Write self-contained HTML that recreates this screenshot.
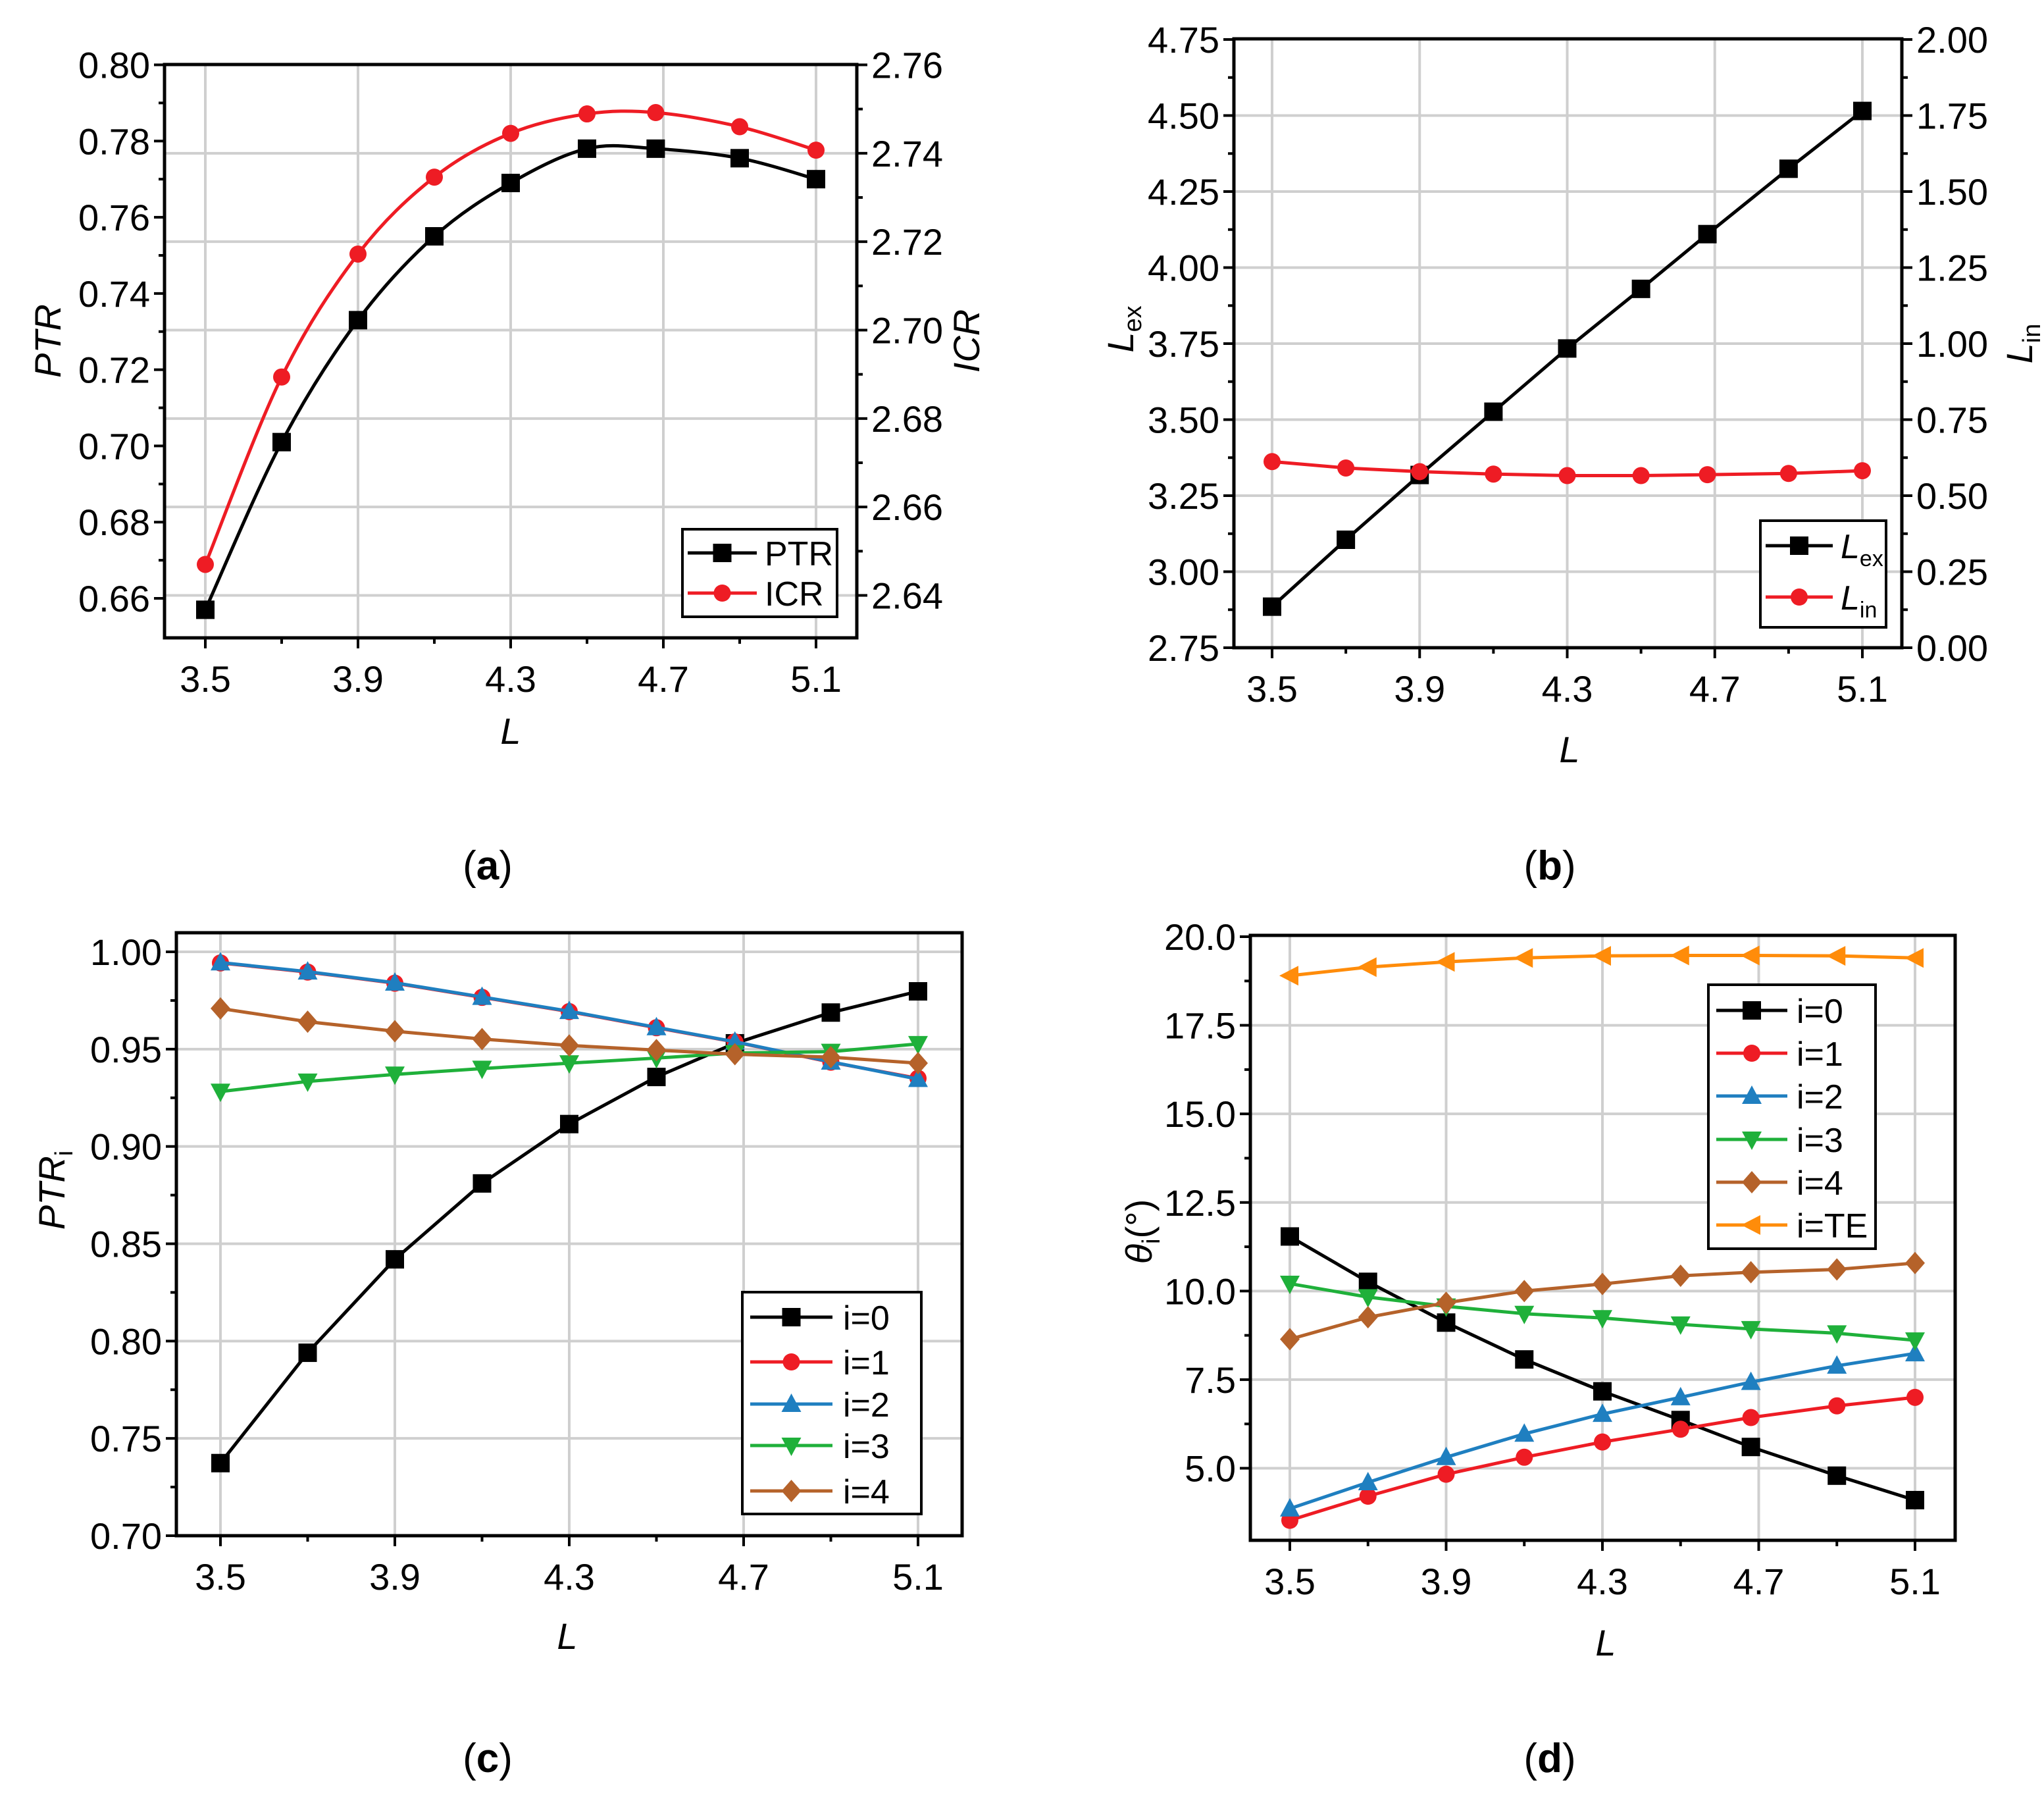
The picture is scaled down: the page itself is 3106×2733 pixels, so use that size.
<!DOCTYPE html>
<html><head><meta charset="utf-8"><style>
html,body{margin:0;padding:0;background:#fff}
svg{display:block}
text{font-family:"Liberation Sans",sans-serif}
</style></head><body>
<svg id="fig" xmlns="http://www.w3.org/2000/svg" width="3106" height="2733" viewBox="0 0 3106 2733"></svg>
<script>
// ---- data ----
const xVals = [3.5,3.7,3.9,4.1,4.3,4.5,4.68,4.9,5.1];
const xTicks = [3.5,3.9,4.3,4.7,5.1];
const xMinor = [3.7,4.1,4.5,4.9];
// panel a
const ptrA = [0.657,0.701,0.733,0.755,0.769,0.778,0.778,0.7755,0.770];
const icrA = [2.647,2.6894,2.7172,2.7346,2.7445,2.7489,2.7492,2.746,2.7407];
const aLeftTicks = [0.66,0.68,0.70,0.72,0.74,0.76,0.78,0.80];
const aRightTicks = [2.64,2.66,2.68,2.70,2.72,2.74,2.76];
// panel b
const lexB = [2.885,3.105,3.318,3.526,3.734,3.93,4.11,4.325,4.515];
const linB = [0.612,0.591,0.579,0.571,0.566,0.566,0.569,0.573,0.582];
const bLeftTicks = [2.75,3.00,3.25,3.50,3.75,4.00,4.25,4.50,4.75];
const bRightTicks = [0,0.25,0.5,0.75,1.0,1.25,1.5,1.75,2.0];
// panel c
const c0 = [0.7373,0.794,0.842,0.881,0.9115,0.9357,0.953,0.9688,0.9797];
const c1 = [0.9943,0.9896,0.9839,0.9766,0.9693,0.961,0.9537,0.9433,0.935];
const c2 = [0.9945,0.9898,0.9841,0.9768,0.9695,0.9612,0.9538,0.9435,0.9346];
const c3 = [0.9282,0.9334,0.937,0.940,0.9428,0.9454,0.948,0.9487,0.9527];
const c4 = [0.9709,0.9641,0.9592,0.9552,0.9519,0.9495,0.9474,0.9459,0.9428];
const cTicks = [0.70,0.75,0.80,0.85,0.90,0.95,1.00];
// panel d
const d0 = [11.54,10.26,9.11,8.07,7.17,6.36,5.6,4.79,4.1];
const d1 = [3.53,4.21,4.83,5.31,5.74,6.1,6.43,6.76,7.0];
const d2 = [3.86,4.6,5.31,5.97,6.53,7.0,7.43,7.89,8.24];
const d3 = [10.21,9.83,9.57,9.36,9.24,9.06,8.93,8.81,8.61];
const d4 = [8.64,9.26,9.67,10.0,10.2,10.43,10.53,10.61,10.79];
const dTE = [18.9,19.14,19.29,19.4,19.46,19.47,19.47,19.46,19.4];
const dTicks = [5.0,7.5,10.0,12.5,15.0,17.5,20.0];

const NS="http://www.w3.org/2000/svg";
const svg=document.getElementById('fig');
function el(tag,attrs,parent,txt){const e=document.createElementNS(NS,tag);for(const k in attrs)e.setAttribute(k,attrs[k]);if(txt!==undefined)e.textContent=txt;(parent||svg).appendChild(e);return e;}
function lin(d0,d1,r0,r1){return v=>r0+(v-d0)*(r1-r0)/(d1-d0);}
function fmt(v,dec){return v.toFixed(dec);}

function marker(g,type,x,y,color){
  let m;
  const s=14;
  if(type==='sq') m=el('rect',{x:x-s,y:y-s,width:2*s,height:2*s,fill:color},g);
  else if(type==='ci') m=el('circle',{cx:x,cy:y,r:13,fill:color},g);
  else if(type==='up') m=el('polygon',{points:`${x},${y-16} ${x-15},${y+12} ${x+15},${y+12}`,fill:color},g);
  else if(type==='dn') m=el('polygon',{points:`${x},${y+16} ${x-15},${y-12} ${x+15},${y-12}`,fill:color},g);
  else if(type==='di') m=el('polygon',{points:`${x},${y-17} ${x+15},${y} ${x},${y+17} ${x-15},${y}`,fill:color},g);
  else if(type==='lt') m=el('polygon',{points:`${x-16},${y} ${x+13},${y-15} ${x+13},${y+15}`,fill:color},g);
  
  
  return m;
}
function smoothPath(pts){
  let d=`M${pts[0][0]},${pts[0][1]}`;
  for(let i=0;i<pts.length-1;i++){
    const p0=pts[Math.max(0,i-1)],p1=pts[i],p2=pts[i+1],p3=pts[Math.min(pts.length-1,i+2)];
    const c1x=p1[0]+(p2[0]-p0[0])/6,c1y=p1[1]+(p2[1]-p0[1])/6;
    const c2x=p2[0]-(p3[0]-p1[0])/6,c2y=p2[1]-(p3[1]-p1[1])/6;
    d+=` C${c1x},${c1y} ${c2x},${c2y} ${p2[0]},${p2[1]}`;
  }
  return d;
}
function series(g,name,xs,ys,fx,fy,color,mk,smooth){
  const sg=el('g',{},g);
  
  
  const pts=xs.map((x,i)=>[fx(x),fy(ys[i])]);
  const d=smooth?smoothPath(pts):'M'+pts.map(p=>p.join(',')).join(' L');
  const p=el('path',{d:d,fill:'none',stroke:color,'stroke-width':5},sg);
  
  
  pts.forEach(pt=>marker(sg,mk,pt[0],pt[1],color));
}
function axesFrame(g,box,fx,xT,xM,gridYs){
  xT.forEach(v=>el('line',{x1:fx(v),x2:fx(v),y1:box.T,y2:box.B,stroke:'#cfcfcf','stroke-width':4},g));
  gridYs.forEach(y=>el('line',{x1:box.L,x2:box.R,y1:y,y2:y,stroke:'#cfcfcf','stroke-width':4},g));
}
function frameAndX(g,box,fx,xT,xM,name){
  const r=el('rect',{x:box.L,y:box.T,width:box.R-box.L,height:box.B-box.T,fill:'none',stroke:'#000','stroke-width':5},g);
  
  
  xT.forEach(v=>{el('line',{x1:fx(v),x2:fx(v),y1:box.B,y2:box.B+16,stroke:'#000','stroke-width':4},g);
    const t=el('text',{x:fx(v),y:box.B+82,'font-size':56,'text-anchor':'middle'},g,v.toFixed(1));
    
    });
  xM.forEach(v=>el('line',{x1:fx(v),x2:fx(v),y1:box.B,y2:box.B+9,stroke:'#000','stroke-width':4},g));
}
function yTicks(g,box,fy,ticks,dec,side){
  const x0=side==='L'?box.L:box.R, dir=side==='L'?-1:1;
  ticks.forEach((v,i)=>{
    el('line',{x1:x0,x2:x0+dir*16,y1:fy(v),y2:fy(v),stroke:'#000','stroke-width':4},g);
    if(i<ticks.length-1){const m=(v+ticks[i+1])/2;el('line',{x1:x0,x2:x0+dir*9,y1:fy(m),y2:fy(m),stroke:'#000','stroke-width':4},g);}
    const t=el('text',{x:x0+dir*22,y:fy(v)+20,'font-size':56,'text-anchor':side==='L'?'end':'start'},g,fmt(v,dec));
    
    
  });
}
function axisTitle(g,x,y,rot,html,name){
  const t=el('text',{x:x,y:y,'font-size':56,'text-anchor':'middle','font-style':'italic',transform:rot?`rotate(-90 ${x} ${y})`:''},g);
  t.innerHTML=html;
  
  
}
function legend(g,box,entries,x1,x2,tx){
  const lg=el('g',{},g);
  
  
  el('rect',{x:box[0],y:box[1],width:box[2]-box[0],height:box[3]-box[1],fill:'#fff',stroke:'#000','stroke-width':4},lg);
  entries.forEach(e=>{
    const eg=el('g',{},lg);
    
    
    el('line',{x1:x1,x2:x2,y1:e.y,y2:e.y,stroke:e.c,'stroke-width':5},eg);
    marker(eg,e.m,(x1+x2)/2,e.y,e.c);
    const t=el('text',{x:tx,y:e.y+19,'font-size':52},eg);
    t.innerHTML=e.t;
  });
}
function caption(x,y,letter){
  const t=el('text',{x:x,y:y,'font-size':62,'text-anchor':'middle','font-family':'Liberation Serif, serif'});
  t.innerHTML=`(<tspan font-weight="bold">${letter}</tspan>)`;
  
  
}

// ---- Panel a ----
(function(){
  const g=el('g',{});
  const box={L:250,R:1302,T:98,B:969};
  const fx=lin(3.5,5.1,312,1240), fyL=lin(0.80,0.66,98.5,909), fyR=lin(2.76,2.64,98.5,904.5);
  axesFrame(g,box,fx,xTicks,xMinor,aRightTicks.slice(0,-1).map(fyR));
  series(g,'ptr-series',xVals,ptrA,fx,fyL,'#000','sq',true);
  series(g,'icr-series',xVals,icrA,fx,fyR,'#ee1c24','ci',true);
  frameAndX(g,box,fx,xTicks,xMinor,'a');
  yTicks(g,box,fyL,aLeftTicks,2,'L');
  yTicks(g,box,fyR,aRightTicks,2,'R');
  axisTitle(g,776,1130,false,'L','x-axis-title');
  axisTitle(g,92,518,true,'PTR','y-axis-title');
  axisTitle(g,1488,518,true,'ICR','y2-axis-title');
  legend(g,[1037,804,1272,937],[{y:840,c:'#000',m:'sq',t:'PTR'},{y:901,c:'#ee1c24',m:'ci',t:'ICR'}],1045,1150,1162);
})();
// ---- Panel b ----
(function(){
  const g=el('g',{});
  const box={L:1875,R:2890,T:59,B:984};
  const fx=lin(3.5,5.1,1933,2830), fyL=lin(4.75,2.75,60,984), fyR=lin(2,0,60,984);
  axesFrame(g,box,fx,xTicks,xMinor,bLeftTicks.slice(1,-1).map(fyL));
  series(g,'lex-series',xVals,lexB,fx,fyL,'#000','sq',false);
  series(g,'lin-series',xVals,linB,fx,fyR,'#ee1c24','ci',false);
  frameAndX(g,box,fx,xTicks,xMinor,'b');
  yTicks(g,box,fyL,bLeftTicks,2,'L');
  yTicks(g,box,fyR,bRightTicks,2,'R');
  axisTitle(g,2385,1158,false,'L','x-axis-title');
  axisTitle(g,1722,500,true,'L<tspan font-size="38" font-style="normal" dy="12">ex</tspan>','y-axis-title');
  axisTitle(g,3088,522,true,'L<tspan font-size="38" font-style="normal" dy="12">in</tspan>','y2-axis-title');
  legend(g,[2675,791,2866,953],[{y:829,c:'#000',m:'sq',t:'<tspan font-style="italic">L</tspan><tspan font-size="34" dy="12">ex</tspan>'},{y:907,c:'#ee1c24',m:'ci',t:'<tspan font-style="italic">L</tspan><tspan font-size="34" dy="12">in</tspan>'}],2683,2785,2797);
})();
// ---- Panel c ----
(function(){
  const g=el('g',{});
  const box={L:268,R:1462,T:1417,B:2333};
  const fx=lin(3.5,5.1,335,1395), fy=lin(1.0,0.70,1446,2333);
  axesFrame(g,box,fx,xTicks,xMinor,cTicks.slice(1).map(fy));
  series(g,'i0-series',xVals,c0,fx,fy,'#000','sq',false);
  series(g,'i1-series',xVals,c1,fx,fy,'#ee1c24','ci',false);
  series(g,'i2-series',xVals,c2,fx,fy,'#1f7fc0','up',false);
  series(g,'i3-series',xVals,c3,fx,fy,'#1fb03a','dn',false);
  series(g,'i4-series',xVals,c4,fx,fy,'#b5622a','di',false);
  frameAndX(g,box,fx,xTicks,xMinor,'c');
  yTicks(g,box,fy,cTicks,2,'L');
  axisTitle(g,862,2505,false,'L','x-axis-title');
  axisTitle(g,98,1808,true,'PTR<tspan font-size="38" font-style="normal" dy="12">i</tspan>','y-axis-title');
  legend(g,[1128,1963,1400,2300],[
    {y:2001,c:'#000',m:'sq',t:'i=0'},{y:2069,c:'#ee1c24',m:'ci',t:'i=1'},{y:2133,c:'#1f7fc0',m:'up',t:'i=2'},
    {y:2196,c:'#1fb03a',m:'dn',t:'i=3'},{y:2265,c:'#b5622a',m:'di',t:'i=4'}],1140,1265,1281);
})();
// ---- Panel d ----
(function(){
  const g=el('g',{});
  const box={L:1900,R:2971,T:1421,B:2340};
  const fx=lin(3.5,5.1,1960,2910), fy=lin(20,5,1423,2230.5);
  axesFrame(g,box,fx,xTicks,xMinor,dTicks.slice(0,-1).map(fy));
  series(g,'i0-series',xVals,d0,fx,fy,'#000','sq',false);
  series(g,'i1-series',xVals,d1,fx,fy,'#ee1c24','ci',false);
  series(g,'i2-series',xVals,d2,fx,fy,'#1f7fc0','up',false);
  series(g,'i3-series',xVals,d3,fx,fy,'#1fb03a','dn',false);
  series(g,'i4-series',xVals,d4,fx,fy,'#b5622a','di',false);
  series(g,'iTE-series',xVals,dTE,fx,fy,'#ff8c0a','lt',false);
  frameAndX(g,box,fx,xTicks,xMinor,'d');
  yTicks(g,box,fy,dTicks,1,'L');
  axisTitle(g,2440,2515,false,'L','x-axis-title');
  axisTitle(g,1750,1871,true,'θ<tspan font-size="38" font-style="normal" dy="12">i</tspan><tspan font-style="normal" dy="-12">(°)</tspan>','y-axis-title');
  legend(g,[2596,1496,2850,1897],[
    {y:1535,c:'#000',m:'sq',t:'i=0'},{y:1600,c:'#ee1c24',m:'ci',t:'i=1'},{y:1665,c:'#1f7fc0',m:'up',t:'i=2'},
    {y:1731,c:'#1fb03a',m:'dn',t:'i=3'},{y:1796,c:'#b5622a',m:'di',t:'i=4'},{y:1861,c:'#ff8c0a',m:'lt',t:'i=TE'}],2608,2716,2730);
})();
caption(741,1336,'a');
caption(2355,1336,'b');
caption(741,2692,'c');
caption(2355,2692,'d');
</script>
</body></html>
